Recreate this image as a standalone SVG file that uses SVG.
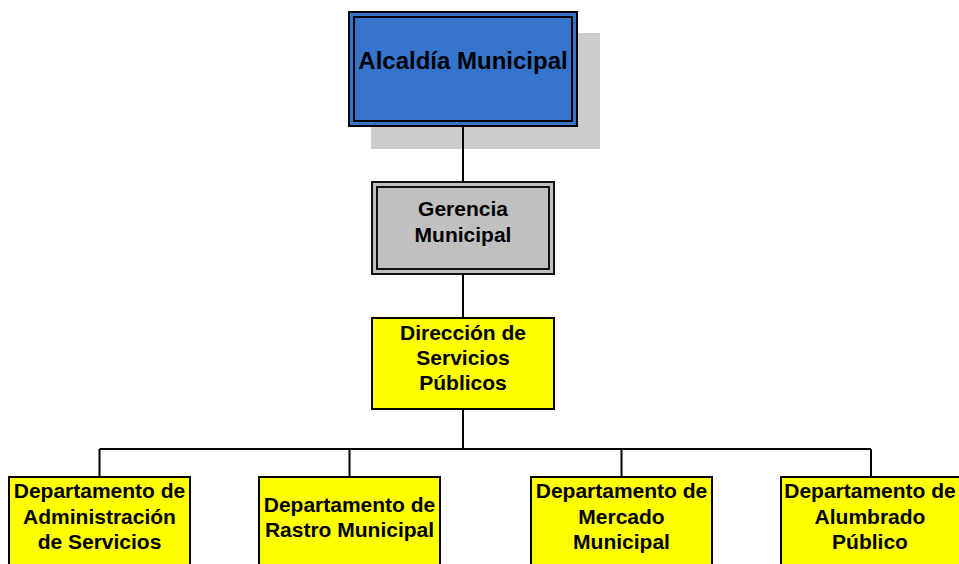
<svg xmlns="http://www.w3.org/2000/svg" width="959" height="564" viewBox="0 0 959 564">
<style>
text{font-family:"Liberation Sans",Arial,sans-serif;font-weight:bold;fill:#000;text-anchor:middle}
.t{font-size:21px}
.big{font-size:24px}
.y{fill:#ffff00;stroke:#000;stroke-width:2}
.c{fill:none;stroke:#000;stroke-width:2}
</style>
<rect width="959" height="564" fill="#fff"/>
<g id="connectors">
<path class="c" d="M463 126V182M463 274V318M463 409V449M99.5 449H871M99.5 449V477M349.5 449V477M621.5 449V477M871 449V477"/>
</g>
<g id="alcaldia">
<rect x="371" y="33" width="229" height="116" fill="#cccccc"/>
<rect x="349" y="12" width="228" height="114" fill="#3574cc" stroke="#000" stroke-width="2"/>
<rect x="354" y="17" width="218" height="104" fill="none" stroke="#000" stroke-width="2"/>
<path class="c" d="M463 126V149"/>
<text class="big" x="463" y="69">Alcaldía Municipal</text>
</g>
<g id="gerencia">
<rect x="372" y="182" width="182" height="92" fill="#c0c0c0" stroke="#111" stroke-width="2"/>
<rect x="377" y="187" width="172" height="82" fill="none" stroke="#111" stroke-width="2"/>
<text class="t" x="463" y="216">Gerencia</text>
<text class="t" x="463" y="242">Municipal</text>
</g>
<g id="direccion">
<rect class="y" x="372" y="318" width="182" height="91"/>
<text class="t" x="463" y="340">Dirección de</text>
<text class="t" x="463" y="365">Servicios</text>
<text class="t" x="463" y="390">Públicos</text>
</g>
<g id="dep-administracion">
<rect class="y" x="9" y="477" width="181" height="100"/>
<text class="t" x="99.5" y="498">Departamento de</text>
<text class="t" x="99.5" y="523.5">Administración</text>
<text class="t" x="99.5" y="549">de Servicios</text>
</g>
<g id="dep-rastro">
<rect class="y" x="259" y="477" width="181" height="100"/>
<text class="t" x="349.5" y="511.5">Departamento de</text>
<text class="t" x="349.5" y="537">Rastro Municipal</text>
</g>
<g id="dep-mercado">
<rect class="y" x="531" y="477" width="181" height="100"/>
<text class="t" x="621.5" y="498">Departamento de</text>
<text class="t" x="621.5" y="523.5">Mercado</text>
<text class="t" x="621.5" y="549">Municipal</text>
</g>
<g id="dep-alumbrado">
<rect class="y" x="781" y="477" width="181" height="100"/>
<text class="t" x="870" y="498">Departamento de</text>
<text class="t" x="870" y="523.5">Alumbrado</text>
<text class="t" x="870" y="549">Público</text>
</g>
</svg>
